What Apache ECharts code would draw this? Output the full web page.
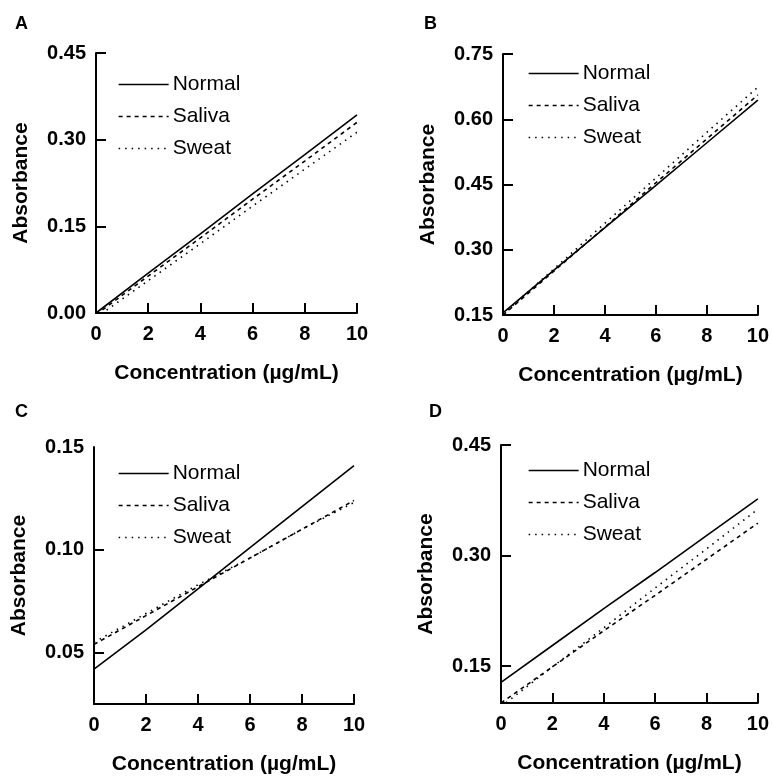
<!DOCTYPE html>
<html>
<head>
<meta charset="utf-8">
<title>Absorbance vs concentration</title>
<script src="https://cdn.jsdelivr.net/npm/echarts@6/dist/echarts.min.js"></script>
<style>
  html, body { margin: 0; padding: 0; background: #fff; }
  #chart { width: 772px; height: 776px; }
</style>
</head>
<body>
<div id="chart"></div>
<script>
// x values (µg/mL) shared by every panel
const conc = [0, 2, 4, 6, 8, 10];
const xTicks = [0, 2, 4, 6, 8, 10];
const seriesNames = ['Normal', 'Saliva', 'Sweat'];
const panelLetters = ['A', 'B', 'C', 'D'];

// panel A
const normalA = [0.000, 0.069, 0.137, 0.206, 0.274, 0.343];
const salivaA = [-0.003, 0.064, 0.130, 0.197, 0.263, 0.330];
const sweatA = [-0.008, 0.056, 0.120, 0.185, 0.249, 0.313];
const yRangeA = [0, 0.45];
const yLabelsA = [0, 0.15, 0.30, 0.45];

// panel B
const normalB = [0.155, 0.253, 0.351, 0.448, 0.546, 0.644];
const salivaB = [0.150, 0.251, 0.352, 0.454, 0.555, 0.656];
const sweatB = [0.152, 0.256, 0.361, 0.465, 0.570, 0.674];
const yRangeB = [0.15, 0.75];
const yLabelsB = [0.15, 0.30, 0.45, 0.60, 0.75];

// panel C
const normalC = [0.042, 0.061, 0.081, 0.101, 0.121, 0.141];
const salivaC = [0.054, 0.068, 0.082, 0.096, 0.110, 0.124];
const sweatC = [0.055, 0.069, 0.083, 0.096, 0.110, 0.123];
const yRangeC = [0.025, 0.15];
const yLabelsC = [0.05, 0.10, 0.15];

// panel D
const normalD = [0.128, 0.178, 0.228, 0.277, 0.327, 0.377];
const salivaD = [0.100, 0.149, 0.198, 0.246, 0.295, 0.344];
const sweatD = [0.095, 0.149, 0.202, 0.256, 0.309, 0.363];
const yRangeD = [0.10, 0.45];
const yLabelsD = [0.15, 0.30, 0.45];

const panelData = [
  { series: [normalA, salivaA, sweatA], range: yRangeA, labels: yLabelsA, ticks: [0.15, 0.30, 0.45] },
  { series: [normalB, salivaB, sweatB], range: yRangeB, labels: yLabelsB, ticks: [0.30, 0.45, 0.60, 0.75] },
  { series: [normalC, salivaC, sweatC], range: yRangeC, labels: yLabelsC, ticks: [0.05, 0.10] },
  { series: [normalD, salivaD, sweatD], range: yRangeD, labels: yLabelsD, ticks: [0.15, 0.30, 0.45] }
];

// layout in pixels
const grids = [
  { left: 96, top: 53, width: 261, height: 260 },
  { left: 503, top: 54, width: 260, height: 261 },
  { left: 94, top: 447, width: 260, height: 257 },
  { left: 501, top: 445, width: 260, height: 258 }
];
const legendPos = [
  { left: 118, top: 74 },
  { left: 528, top: 63 },
  { left: 118, top: 463 },
  { left: 528, top: 460 }
];
const letterPos = [
  { left: 15, top: 15 },
  { left: 424, top: 15 },
  { left: 15, top: 403 },
  { left: 429, top: 403 }
];

const font = 'Arial, "Liberation Sans", sans-serif';
const dashes = ['solid', [4, 4], [1.5, 5]];

const axisLine = { lineStyle: { color: '#000', width: 2 } };
const axisTick = { inside: true, length: 10, lineStyle: { color: '#000', width: 2 } };
const labelStyle = { color: '#000', fontSize: 20, fontWeight: 'bold', fontFamily: font };
const nameStyle = { color: '#000', fontSize: 21, fontWeight: 'bold', fontFamily: font };

const option = {
  backgroundColor: '#fff',
  animation: false,
  title: panelLetters.map((t, i) => ({
    text: t,
    left: letterPos[i].left,
    top: letterPos[i].top,
    padding: 0,
    textStyle: { color: '#000', fontSize: 18, fontWeight: 'bold', fontFamily: font }
  })),
  legend: legendPos.map(p => ({
    data: seriesNames,
    orient: 'vertical',
    left: p.left,
    top: p.top,
    padding: 0,
    itemWidth: 50,
    itemHeight: 14,
    itemGap: 11,
    selectedMode: false,
    // hide the marker circle, keep only the line
    itemStyle: { color: 'rgba(0,0,0,0)', borderColor: 'rgba(0,0,0,0)', borderWidth: 0 },
    lineStyle: { width: 1.3 },
    textStyle: { color: '#000', fontSize: 21, fontFamily: font, padding: [0, 0, 0, -1] }
  })),
  grid: grids.map(g => Object.assign({ containLabel: false }, g)),
  xAxis: grids.map((g, i) => ({
    type: 'value',
    gridIndex: i,
    min: 0,
    max: 10,
    name: 'Concentration (µg/mL)',
    nameLocation: 'middle',
    nameGap: 50,
    nameTextStyle: nameStyle,
    axisLine: axisLine,
    axisTick: Object.assign({ customValues: xTicks }, axisTick),
    axisLabel: Object.assign({ customValues: xTicks, margin: 11 }, labelStyle),
    splitLine: { show: false }
  })),
  yAxis: panelData.map((p, i) => ({
    type: 'value',
    gridIndex: i,
    min: p.range[0],
    max: p.range[1],
    name: 'Absorbance',
    nameLocation: 'middle',
    nameGap: 64,
    nameTextStyle: nameStyle,
    axisLine: axisLine,
    axisTick: Object.assign({ customValues: p.ticks }, axisTick),
    axisLabel: Object.assign({
      customValues: p.labels,
      margin: 10,
      formatter: v => v.toFixed(2)
    }, labelStyle),
    splitLine: { show: false }
  })),
  series: []
};

panelData.forEach((p, i) => {
  p.series.forEach((vals, k) => {
    option.series.push({
      name: seriesNames[k],
      type: 'line',
      xAxisIndex: i,
      yAxisIndex: i,
      symbol: 'none',
      clip: true,
      data: conc.map((x, j) => [x, vals[j]]),
      lineStyle: { color: '#000', width: 1.6, type: dashes[k] },
      itemStyle: { color: '#000' }
    });
  });
});

const chart = echarts.init(document.getElementById('chart'));
chart.setOption(option);
</script>
</body>
</html>
